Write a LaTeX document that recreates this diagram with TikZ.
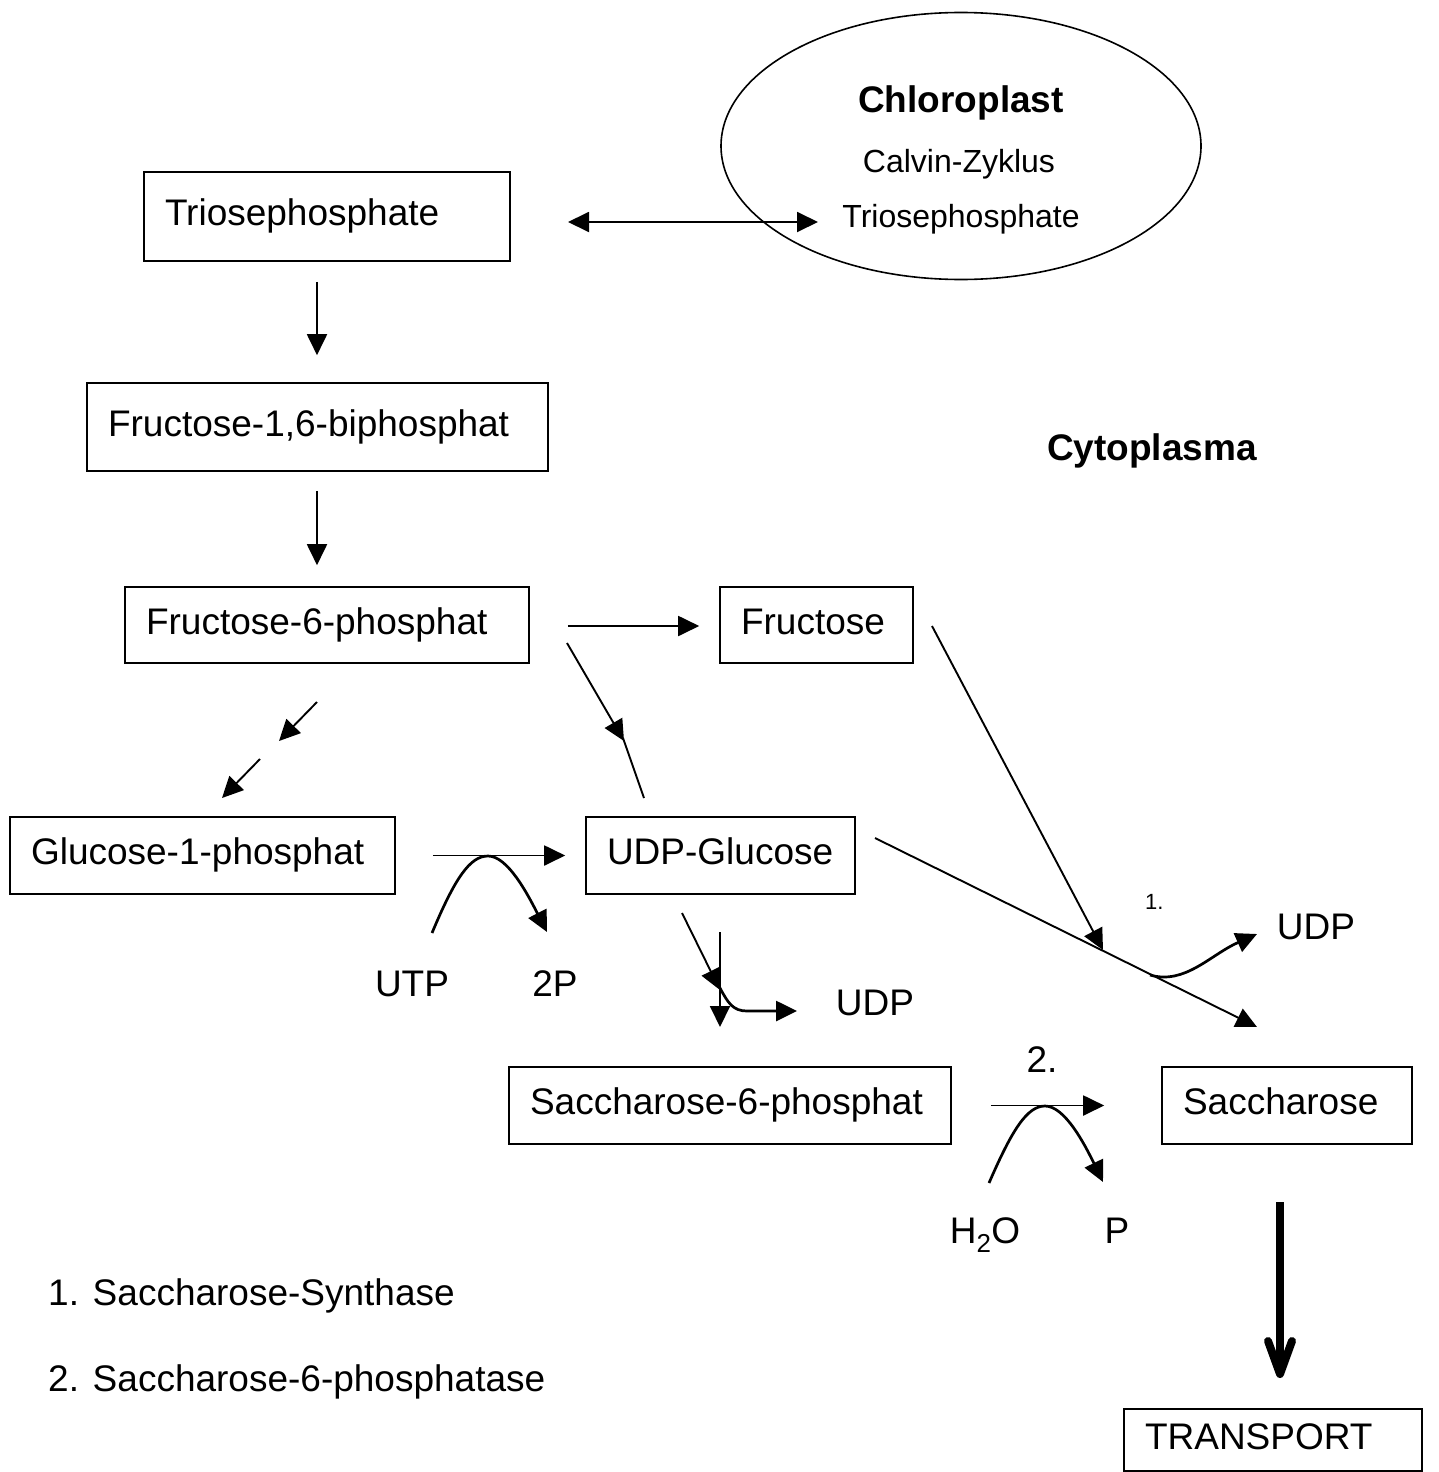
\documentclass[tikz,border=0pt]{standalone}
\usepackage{fontspec}
\setmainfont{Liberation Sans}
\usetikzlibrary{arrows.meta,shapes.geometric,calc}
\begin{document}
\begin{tikzpicture}[x=1pt,y=-1pt,
  big/.style={font=\fontsize{37}{44}\selectfont},
  box/.style={draw,line width=1.6pt,align=left,inner xsep=21pt,inner ysep=0pt,big,text height=30pt,text depth=12pt},
  lbl/.style={big,inner sep=0pt,anchor=base},
  tip/.style={-{Triangle[length=21pt,width=20pt]}},
  con/.style={line width=1.9pt,tip},
  bendcon/.style={line width=2.7pt,tip}]
\useasboundingbox (0,0) rectangle (1438,1472);

% chloroplast
\node[draw,ellipse,line width=1.6pt,minimum width=480,minimum height=267,inner sep=0pt] (chl) at (961,146) {};
\node[lbl,font=\fontsize{37}{44}\selectfont\bfseries] (chlt) at (961,112) {Chloroplast};
\node[lbl,font=\fontsize{32}{38}\selectfont] (calv) at (959,172) {Calvin-Zyklus};
\node[lbl,font=\fontsize{32}{38}\selectfont] (ctp) at (961,227) {Triosephosphate};

\node[lbl,font=\fontsize{37}{44}\selectfont\bfseries] (cyto) at (1152,460) {Cytoplasma};

% boxes
\node[box,text width=324,minimum height=89] (tp) at (327,216.5) {Triosephosphate};
\node[box,text width=419,minimum height=88] (f16) at (317.5,427) {Fructose-1,6-biphosphat};
\node[box,text width=362,minimum height=76] (f6p) at (327,625) {Fructose-6-phosphat};
\node[box,text width=151,minimum height=76] (fru) at (816.5,625) {Fructose};
\node[box,text width=343,minimum height=77] (g1p) at (202.5,855.5) {Glucose-1-phosphat};
\node[box,text width=227,minimum height=77] (udpg) at (720.5,855.5) {UDP-Glucose};
\node[box,text width=400,minimum height=77] (s6p) at (730,1105.5) {Saccharose-6-phosphat};
\node[box,text width=208,minimum height=77] (sac) at (1287,1105.5) {Saccharose};
\node[box,text width=256,minimum height=62] (trans) at (1273,1440) {TRANSPORT};

% labels
\node[lbl] (utp) at (412,996) {UTP};
\node[lbl] (twop) at (555,996) {2P};
\node[lbl] (udp1) at (875,1015) {UDP};
\node[lbl] (udp2) at (1316,939) {UDP};
\node[lbl,font=\fontsize{22}{26}\selectfont,anchor=base west] (one) at (1145,909) {1.};
\node[lbl] (two) at (1042,1072) {2.};
\node[lbl] (h2o) at (985,1243) {H\textsubscript{2}O};
\node[lbl] (pp) at (1117,1243) {P};
\node[lbl,anchor=base west] (leg1) at (48,1305) {1. Saccharose-Synthase};
\node[lbl,anchor=base west] (leg2) at (48,1391) {2. Saccharose-6-phosphatase};

% free connector ends
\coordinate (dl) at (568,222);
\coordinate (dr) at (818,222);
\coordinate (a1) at (567,643);
\coordinate (a2) at (624,741);
\coordinate (a3) at (644,798);
\coordinate (b1) at (317,702);
\coordinate (b2) at (279,741);
\coordinate (b3) at (260,759);
\coordinate (b4) at (222,798);
\coordinate (u1) at (432,933);
\coordinate (u2) at (547,932);
\coordinate (d1) at (682,913);
\coordinate (d2) at (720,990);
\coordinate (d3) at (720,932);
\coordinate (d4) at (720,1027);
\coordinate (d5) at (797,1011);
\coordinate (e1) at (932,626);
\coordinate (e2) at (1103,950);
\coordinate (e3) at (875,838);
\coordinate (e4) at (1257,1027);
\coordinate (e5) at (1150,975);
\coordinate (e6) at (1257,934);
\coordinate (g1) at (989,1183);
\coordinate (g2) at (1103,1182);
\coordinate (t1) at (1280,1202);
\coordinate (t2) at (1280,1370);
\coordinate (t3) at (1280,1374);

% connectors
\draw[line width=1.9pt,{Triangle[length=21pt,width=20pt]}-{Triangle[length=21pt,width=20pt]}] (dl) -- (dr);
\draw[con] ($(tp.south)+(-10,20)$) -- ($(f16.north)+(-0.5,-27)$);
\draw[con] ($(f16.south)+(-0.5,19)$) -- ($(f6p.north)+(-10,-21)$);
\draw[con] ($(f6p.east)+(38,1)$) -- ($(fru.west)+(-20,1)$);
% F6P -> UDP-Glucose
\draw[con] (a1) -- (a2);
\draw[line width=1.9pt] (623,738) -- (a3);
% F6P -> G1P (two short arrows)
\draw[con] (b1) -- (b2);
\draw[con] (b3) -- (b4);
% G1P -> UDP-Glucose
\draw[con] ($(g1p.east)+(37,0)$) -- ($(udpg.west)+(-20,0)$);
\draw[bendcon] (u1) .. controls (455,878) and (470,856) .. (488,856)
  .. controls (508,856) and (528,895) .. (u2);
% UDP-Glucose -> Saccharose-6-phosphat
\draw[con] (d1) -- (d2);
\draw[con] (d3) -- (d4);
\draw[bendcon] (720,988) .. controls (728,1003) and (733,1011) .. (747,1011) -- (d5);
% Fructose / UDP-Glucose -> Saccharose
\draw[con] (e1) -- (e2);
\draw[con] (e3) -- (e4);
\draw[bendcon] (e5) .. controls (1185,985) and (1210,955) .. (e6);
% S6P -> Saccharose
\draw[con] ($(s6p.east)+(39,0)$) -- ($(sac.west)+(-57,0)$);
\draw[bendcon] (g1) .. controls (1012,1130) and (1027,1106) .. (1045,1106)
  .. controls (1065,1106) and (1085,1145) .. (g2);
% transport
\draw[line width=8pt] (t1) -- (t2);
\draw[line width=8pt,line cap=round,line join=round] (1268,1341) -- (t3) -- (1292,1341);
\end{tikzpicture}
\end{document}
